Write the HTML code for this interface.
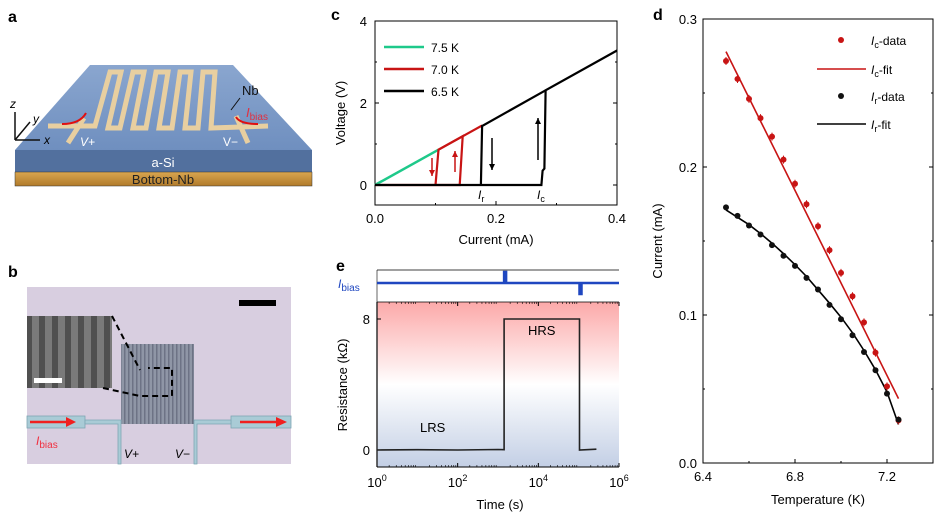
<!DOCTYPE html>
<html><head><meta charset="utf-8"><style>
html,body{margin:0;padding:0;background:#fff}
svg{display:block;font-family:"Liberation Sans",Arial,sans-serif}
</style></head><body>
<svg id="fig" width="936" height="523" viewBox="0 0 936 523" xmlns="http://www.w3.org/2000/svg">
<defs>
<linearGradient id="topface" x1="0" y1="0" x2="0" y2="1"><stop offset="0" stop-color="#8aa6cf"/><stop offset="1" stop-color="#6f8fbf"/></linearGradient>
<linearGradient id="nbgrad" x1="0" y1="0" x2="0" y2="1"><stop offset="0" stop-color="#d9a650"/><stop offset="1" stop-color="#b07a2a"/></linearGradient>
<linearGradient id="resgrad" x1="0" y1="0" x2="0" y2="1"><stop offset="0" stop-color="#fca9a9"/><stop offset="0.5" stop-color="#ffffff"/><stop offset="1" stop-color="#c3cfe5"/></linearGradient>
<pattern id="stripes" width="4" height="10" patternUnits="userSpaceOnUse"><rect width="4" height="10" fill="#8f96a6"/><rect width="1.5" height="10" fill="#6d7385"/></pattern>
<pattern id="sem" width="13" height="10" patternUnits="userSpaceOnUse"><rect width="13" height="10" fill="#7a7a7a"/><rect width="6" height="10" fill="#505050"/></pattern>
</defs>

<!-- Panel a -->
<g>
<text x="8" y="22" font-size="16" font-weight="bold">a</text>
<polygon points="90,65 233,65 312,150 15,150" fill="url(#topface)"/>
<rect x="15" y="150" width="297" height="22" fill="#52709e"/>
<rect x="15" y="172" width="297" height="14" fill="url(#nbgrad)" stroke="#333" stroke-width="0.5"/>
<text x="163" y="167" font-size="13" fill="#fff" text-anchor="middle">a-Si</text>
<text x="163" y="184" font-size="13" fill="#222" text-anchor="middle">Bottom-Nb</text>
<g fill="none" stroke="#e8cfa0" stroke-width="5" stroke-linejoin="miter">
<polyline points="48,126 95,126 110,72 121,72 108,128 120,128 133,72 144,72 133,128 146,128 156,72 168,72 159,128 172,128 180,72 191,72 185,128 198,128 203,72 215,72 211,128 268,126"/>
<line x1="68" y1="143" x2="84" y2="118"/>
<line x1="248" y1="143" x2="236" y2="116"/>
</g>
<path d="M62,124 Q80,124 86,113" stroke="#e01010" stroke-width="2" fill="none"/>
<path d="M236,117 Q240,124 258,124" stroke="#e01010" stroke-width="2" fill="none"/>
<text x="80" y="146" font-size="12" fill="#fff" font-style="italic">V+</text>
<text x="223" y="146" font-size="12" fill="#fff">V−</text>
<text x="242" y="95" font-size="13" fill="#111">Nb</text>
<line x1="240" y1="98" x2="231" y2="110" stroke="#111" stroke-width="1"/>
<text x="246" y="117" font-size="13" fill="#e03040" font-style="italic">I<tspan font-size="10" font-style="normal" dy="3">bias</tspan></text>
<g stroke="#111" stroke-width="1.5" fill="#111">
<line x1="15" y1="140" x2="15" y2="112"/><line x1="15" y1="140" x2="40" y2="140"/><line x1="15" y1="140" x2="30" y2="122"/>
</g>
<text x="10" y="108" font-size="12" font-style="italic">z</text>
<text x="33" y="123" font-size="12" font-style="italic">y</text>
<text x="44" y="144" font-size="12" font-style="italic">x</text>
</g>

<!-- Panel b -->
<g>
<text x="8" y="277" font-size="16" font-weight="bold">b</text>
<rect x="27" y="287" width="264" height="177" fill="#d8cee0"/>
<rect x="27" y="316" width="85" height="72" fill="url(#sem)"/>
<rect x="34" y="378" width="28" height="5" fill="#fff"/>
<rect x="239" y="300" width="37" height="6" fill="#000"/>
<rect x="121" y="344" width="73" height="80" fill="url(#stripes)"/>
<path d="M112,316 L140,370 M103,388 L140,396 L172,396 L172,368 L148,368" stroke="#000" stroke-width="2" stroke-dasharray="6,4" fill="none"/>
<g fill="#a9cbd6" stroke="#7ea6b4" stroke-width="0.8">
<rect x="27" y="416" width="58" height="12"/><rect x="231" y="416" width="60" height="12"/>
<path d="M85,420 L121,420 L121,464 L118,464 L118,424 L85,424 Z"/>
<path d="M231,420 L194,420 L194,464 L197,464 L197,424 L231,424 Z"/>
</g>
<line x1="30" y1="422" x2="68" y2="422" stroke="#f02020" stroke-width="2.5"/><polygon points="66,417 76,422 66,427" fill="#f02020"/>
<line x1="240" y1="422" x2="278" y2="422" stroke="#f02020" stroke-width="2.5"/><polygon points="276,417 287,422 276,427" fill="#f02020"/>
<text x="36" y="445" font-size="12" fill="#f03040" font-style="italic">I<tspan font-size="10" font-style="normal" dy="3">bias</tspan></text>
<text x="124" y="458" font-size="12" font-style="italic">V+</text>
<text x="175" y="458" font-size="12" font-style="italic">V−</text>
</g>

<g id="pc"></g>
<g id="pe"></g>
<g id="pd"></g>
</svg>
<script>
// ---- Panel d data ----
const dTemps=[6.5,6.55,6.6,6.65,6.7,6.75,6.8,6.85,6.9,6.95,7.0,7.05,7.1,7.15,7.2,7.25];
const icData=[0.2716,0.2595,0.246,0.233,0.2205,0.205,0.1887,0.1748,0.160,0.1438,0.1285,0.1127,0.095,0.0746,0.0518,0.0288];
const irData=[0.1727,0.167,0.1605,0.1544,0.1472,0.140,0.1332,0.1251,0.1172,0.1068,0.0971,0.0863,0.075,0.0627,0.0469,0.0293];
const icFitT=[6.5,7.25];
const icFit=[0.278,0.0435];
const irFit=[0.171,0.166,0.161,0.155,0.1485,0.1415,0.134,0.126,0.117,0.108,0.0985,0.088,0.076,0.063,0.048,0.026];
const dXTicks=[6.4,6.8,7.2];
const dYTicks=[0.0,0.1,0.2,0.3];
// ---- Panel c data ----
const cXTicks=[0.0,0.2,0.4];
const cYTicks=[0,2,4];
const ohmSlope=8.2; // V per mA
const greenI=[0,0.105];
const redPath=[[0,0],[0.1,0],[0.105,0.86],[0.145,1.19],[0.14,0],[0.1,0]];
const redOhmI=[0.105,0.177];
const blackPath=[[0,0],[0.275,0],[0.277,0.35],[0.28,0.4],[0.282,2.31],[0.4,3.28]];
const blackDrop=[[0.175,0],[0.177,1.44],[0.282,2.31]];
// ---- Panel e data ----
const eXTicks=[0,2,4,6];
const eYTicks=[0,8];
const resLogT=[0,1,2,3,3.15,3.15,5.02,5.02,5.44];
const resVal=[0,0.02,0,0.03,0.02,8,8,0,0.05];
const biasLogT=[3.15,5.02];
const biasDir=[1,-1];

const NS='http://www.w3.org/2000/svg';
function mk(p,t,a,txt){const e=document.createElementNS(NS,t);for(const k in a)e.setAttribute(k,a[k]);if(txt!==undefined)e.textContent=txt;p.appendChild(e);return e;}
function pts(arr,fx,fy){return arr.map(p=>fx(p[0]).toFixed(1)+','+fy(p[1]).toFixed(1)).join(' ');}

// ===== Panel d =====
(function(){
const g=document.getElementById('pd');
const L=703,R=933,T=19,B=463;
const x=v=>L+(v-6.4)/1.0*(R-L), y=v=>B-(v/0.3)*(B-T);
let t=mk(g,'text',{x:653,y:20,'font-size':16,'font-weight':'bold'},'d');

let fr=mk(g,'rect',{x:L,y:T,width:R-L,height:B-T,fill:'none',stroke:'#000','stroke-width':1});

dXTicks.forEach(v=>{mk(g,'line',{x1:x(v),x2:x(v),y1:B,y2:B-4,stroke:'#000'});let e=mk(g,'text',{x:x(v),y:B+18,'font-size':13,'text-anchor':'middle'},v.toFixed(1));});
[6.6,7.0].forEach(v=>mk(g,'line',{x1:x(v),x2:x(v),y1:B,y2:B-2,stroke:'#000'}));
dYTicks.forEach(v=>{mk(g,'line',{x1:L,x2:L+4,y1:y(v),y2:y(v),stroke:'#000'});mk(g,'line',{x1:R,x2:R-4,y1:y(v),y2:y(v),stroke:'#000'});let e=mk(g,'text',{x:L-6,y:y(v)+5,'font-size':13,'text-anchor':'end'},v.toFixed(1));});
[0.05,0.15,0.25].forEach(v=>{mk(g,'line',{x1:L,x2:L+2,y1:y(v),y2:y(v),stroke:'#000'});mk(g,'line',{x1:R,x2:R-2,y1:y(v),y2:y(v),stroke:'#000'});});
let xt=mk(g,'text',{x:818,y:504,'font-size':13,'text-anchor':'middle'},'Temperature (K)');
let yt=mk(g,'text',{x:0,y:0,'font-size':13,'text-anchor':'middle',transform:'translate(662,241) rotate(-90)'},'Current (mA)');
let l1=mk(g,'polyline',{points:pts(icFitT.map((v,i)=>[v,icFit[i]]),x,y),fill:'none',stroke:'#c81414','stroke-width':1.6});

let l2=mk(g,'polyline',{points:pts(dTemps.map((v,i)=>[v,irFit[i]]),x,y),fill:'none',stroke:'#000','stroke-width':1.6});

dTemps.forEach((v,i)=>{
 mk(g,'line',{x1:x(v),x2:x(v),y1:y(icData[i])-4,y2:y(icData[i])+4,stroke:'#c81414','stroke-width':1});
 let c=mk(g,'circle',{cx:x(v),cy:y(icData[i]),r:3,fill:'#c81414'});
 
 let d=mk(g,'circle',{cx:x(v),cy:y(irData[i]),r:3,fill:'#111'});
 
});
const lg=mk(g,'g',{});
mk(lg,'circle',{cx:841,cy:40,r:3,fill:'#c81414'});
mk(lg,'line',{x1:817,x2:866,y1:69,y2:69,stroke:'#c81414','stroke-width':1.6});
mk(lg,'circle',{cx:841,cy:96,r:3,fill:'#111'});
mk(lg,'line',{x1:817,x2:866,y1:124,y2:124,stroke:'#000','stroke-width':1.6});
[['c','-data',45],['c','-fit',74],['r','-data',101],['r','-fit',129]].forEach(a=>{
 let e=mk(lg,'text',{x:871,y:a[2],'font-size':12});
 
 mk(e,'tspan',{'font-style':'italic'},'I');mk(e,'tspan',{'font-size':9,dy:3},a[0]);mk(e,'tspan',{dy:-3},a[1]);
});
})();

// ===== Panel c =====
(function(){
const g=document.getElementById('pc');
const L=375,R=617,T=21,B=205;
const x=v=>L+v/0.4*(R-L), y=v=>185-v*41;
let t=mk(g,'text',{x:331,y:20,'font-size':16,'font-weight':'bold'},'c');
let fr=mk(g,'rect',{x:L,y:T,width:R-L,height:B-T,fill:'none',stroke:'#000','stroke-width':1});
cXTicks.forEach(v=>{mk(g,'line',{x1:x(v),x2:x(v),y1:B,y2:B-4,stroke:'#000'});let e=mk(g,'text',{x:x(v),y:B+18,'font-size':13,'text-anchor':'middle'},v.toFixed(1));});
[0.1,0.3].forEach(v=>mk(g,'line',{x1:x(v),x2:x(v),y1:B,y2:B-2,stroke:'#000'}));
cYTicks.forEach(v=>{mk(g,'line',{x1:L,x2:L+4,y1:y(v),y2:y(v),stroke:'#000'});mk(g,'line',{x1:R,x2:R-4,y1:y(v),y2:y(v),stroke:'#000'});let e=mk(g,'text',{x:L-8,y:y(v)+5,'font-size':13,'text-anchor':'end'},String(v));});
[1,3].forEach(v=>{mk(g,'line',{x1:L,x2:L+2,y1:y(v),y2:y(v),stroke:'#000'});mk(g,'line',{x1:R,x2:R-2,y1:y(v),y2:y(v),stroke:'#000'});});
let xt=mk(g,'text',{x:496,y:244,'font-size':13,'text-anchor':'middle'},'Current (mA)');
let yt=mk(g,'text',{x:0,y:0,'font-size':13,'text-anchor':'middle',transform:'translate(345,113) rotate(-90)'},'Voltage (V)');
let gl=mk(g,'polyline',{points:pts(greenI.map(v=>[v,v*ohmSlope]),x,y),fill:'none',stroke:'#1ec98a','stroke-width':2.5});
let ro=mk(g,'polyline',{points:pts(redOhmI.map(v=>[v,v*ohmSlope]),x,y),fill:'none',stroke:'#c81414','stroke-width':2.2});
let rl=mk(g,'polyline',{points:pts(redPath,x,y),fill:'none',stroke:'#c81414','stroke-width':2.2});
let bl=mk(g,'polyline',{points:pts(blackPath,x,y),fill:'none',stroke:'#000','stroke-width':2.2});
let bd=mk(g,'polyline',{points:pts(blackDrop,x,y),fill:'none',stroke:'#000','stroke-width':2.2});
function arrow(xx,y1,y2,col){mk(g,'line',{x1:xx,x2:xx,y1:y1,y2:y2,stroke:col,'stroke-width':1.5});const d=y2>y1?1:-1;mk(g,'polygon',{points:`${xx-3},${y2-6*d} ${xx+3},${y2-6*d} ${xx},${y2}`,fill:col});}
arrow(432,158,176,'#c81414');arrow(455,172,151,'#c81414');arrow(492,138,170,'#000');arrow(538,160,118,'#000');
let ir=mk(g,'text',{x:478,y:199,'font-size':12,'font-style':'italic'});mk(ir,'tspan',{},'I');mk(ir,'tspan',{'font-size':9,dy:3,'font-style':'normal'},'r');
let ic=mk(g,'text',{x:537,y:199,'font-size':12,'font-style':'italic'});mk(ic,'tspan',{},'I');mk(ic,'tspan',{'font-size':9,dy:3,'font-style':'normal'},'c');
[['#1ec98a','7.5 K',47],['#c81414','7.0 K',69],['#000','6.5 K',91]].forEach(a=>{mk(g,'line',{x1:384,x2:424,y1:a[2],y2:a[2],stroke:a[0],'stroke-width':2.5});let e=mk(g,'text',{x:431,y:a[2]+5,'font-size':12},a[1]);});
})();

// ===== Panel e =====
(function(){
const g=document.getElementById('pe');
const L=377,R=619,T=302,B=467;
const x=v=>L+v/6*(R-L), y=v=>450-v*(131/8);
let t=mk(g,'text',{x:336,y:271,'font-size':16,'font-weight':'bold'},'e');
let bg=mk(g,'rect',{x:L,y:T,width:R-L,height:B-T,fill:'url(#resgrad)'});
mk(g,'line',{x1:L,x2:L,y1:270,y2:B,stroke:'#999','stroke-width':1.5});
mk(g,'line',{x1:L,x2:R,y1:270,y2:270,stroke:'#000','stroke-width':0.8});
mk(g,'line',{x1:L,x2:R,y1:T,y2:T,stroke:'#000','stroke-width':0.8});
mk(g,'line',{x1:L,x2:R,y1:B,y2:B,stroke:'#000','stroke-width':1});
mk(g,'line',{x1:L,x2:L,y1:T,y2:B,stroke:'#000','stroke-width':1});
let bp=[[0,0]];biasLogT.forEach((v,i)=>{bp.push([v,0],[v,biasDir[i]],[v+0.05,biasDir[i]],[v+0.05,0]);});bp.push([6,0]);
let bl=mk(g,'polyline',{points:pts(bp,x,v=>283-v*11),fill:'none',stroke:'#1f47c0','stroke-width':2.5});
let ib=mk(g,'text',{x:338,y:288,'font-size':12,fill:'#1f47c0','font-style':'italic'});mk(ib,'tspan',{},'I');mk(ib,'tspan',{'font-size':10,dy:3,'font-style':'normal'},'bias');
eXTicks.forEach(v=>{mk(g,'line',{x1:x(v),x2:x(v),y1:B,y2:B-4,stroke:'#000'});mk(g,'line',{x1:x(v),x2:x(v),y1:T,y2:T+4,stroke:'#000'});let e=mk(g,'text',{x:x(v),y:B+20,'font-size':13,'text-anchor':'middle'});mk(e,'tspan',{},'10');mk(e,'tspan',{'font-size':9,dy:-6},String(v));});
for(let d=0;d<6;d++)for(let k=2;k<10;k++){const xv=x(d+Math.log10(k));mk(g,'line',{x1:xv,x2:xv,y1:B,y2:B-2,stroke:'#000','stroke-width':0.6});mk(g,'line',{x1:xv,x2:xv,y1:T,y2:T+2,stroke:'#000','stroke-width':0.6});}
eYTicks.forEach(v=>{mk(g,'line',{x1:L,x2:L+4,y1:y(v),y2:y(v),stroke:'#000'});let e=mk(g,'text',{x:L-7,y:y(v)+5,'font-size':13,'text-anchor':'end'},String(v));});
let xt=mk(g,'text',{x:500,y:509,'font-size':13,'text-anchor':'middle'},'Time (s)');
let yt=mk(g,'text',{x:0,y:0,'font-size':13,'text-anchor':'middle',transform:'translate(347,385) rotate(-90)'},'Resistance (kΩ)');
let rl=mk(g,'polyline',{points:pts(resLogT.map((v,i)=>[v,resVal[i]]),x,y),fill:'none',stroke:'#222','stroke-width':1.6});
let h=mk(g,'text',{x:528,y:335,'font-size':13},'HRS');
let lr=mk(g,'text',{x:420,y:432,'font-size':13},'LRS');
})();
</script>
</body></html>
